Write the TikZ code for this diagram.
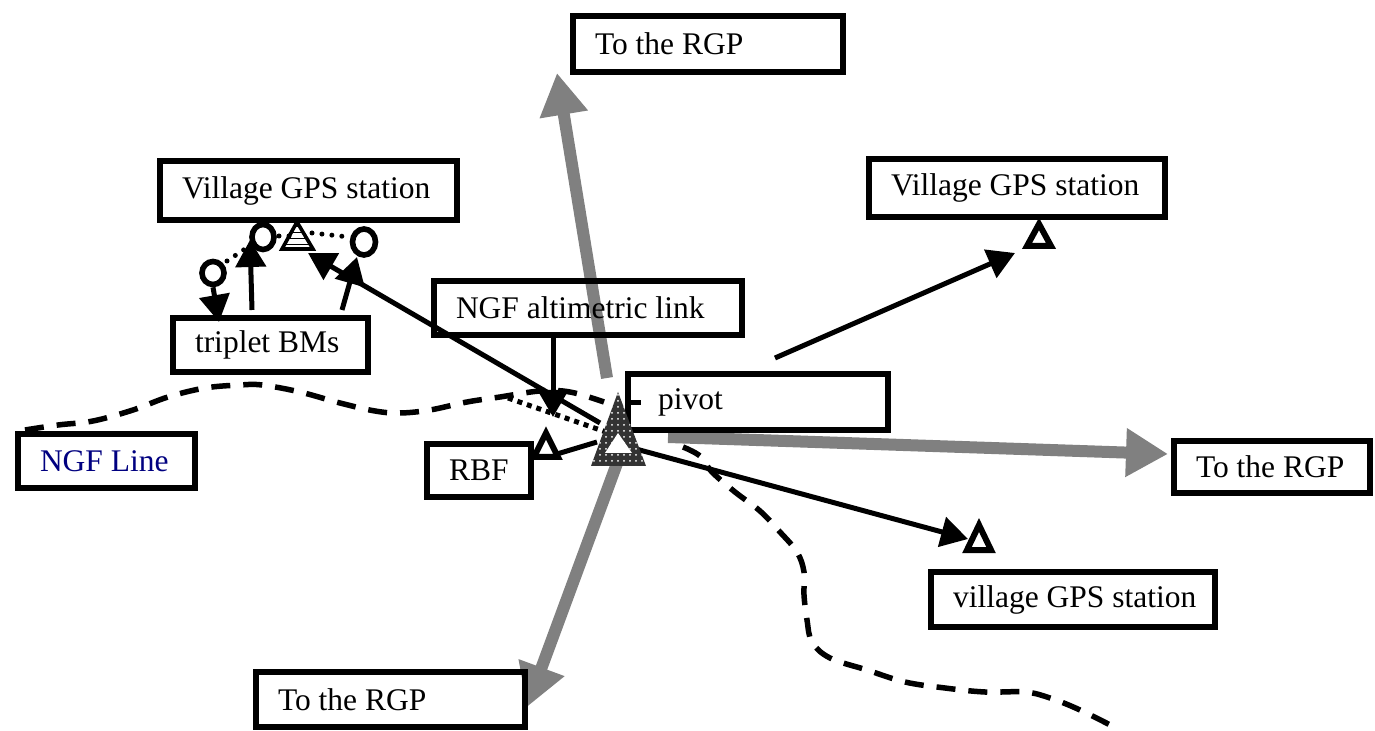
\documentclass[tikz,border=0pt]{standalone}
\usepackage{fontspec}
\setmainfont{Liberation Serif}
\usetikzlibrary{arrows.meta,patterns,shapes.geometric}
\definecolor{rgpgray}{RGB}{128,128,128}
\definecolor{ngfnavy}{RGB}{0,0,128}
\newcommand\rbox[7][]{%
  \pgfmathsetmacro\rbw{(#5-#3-6)*0.5-22}%
  \pgfmathsetmacro\rbh{(#6-#4-6)*0.5}%
  \node[rbox,#1,minimum height=\rbh pt,anchor=north west] (#2) at (#3+3,#4+3) {\makebox[\rbw pt][l]{#7}};}
\begin{document}
\begin{tikzpicture}[x=0.5pt,y=-0.5pt,
  rbox/.style={draw,rectangle,line width=3pt,inner xsep=11pt,inner ysep=0pt,
               font=\fontsize{15.75}{18}\selectfont},
  blk/.style={line width=2.5pt,-{Triangle[length=13.5pt,width=15pt]}},
  plainln/.style={line width=2.5pt},
  garrow/.style={draw=rgpgray,line width=6pt,-{Triangle[length=21pt,width=23pt]}},
  ngfline/.style={line width=2.75pt,dash pattern=on 9.5pt off 6.5pt},
  dotln/.style={line width=2.5pt,dash pattern=on 2.5pt off 2.5pt},
  rdots/.style={line width=2.5pt,line cap=round,dash pattern=on 0pt off 5pt},
  station/.style={line width=3pt,fill=white,line join=miter},
  bm/.style={draw,ellipse,line width=2.8pt,inner sep=0pt}]
\fill[white] (0,0) rectangle (1375,731);
\useasboundingbox (0,0) rectangle (1375,731);

% ---- named points
\coordinate (pvUp) at (607,378);
\coordinate (pvRight) at (668,437);
\coordinate (pvDown) at (619,458);
\coordinate (tipUp) at (557,73);
\coordinate (tipRight) at (1168,454);
\coordinate (tipDown) at (527,707);

% ---- gray arrows to the RGP
\draw[garrow] (pvUp) -- (tipUp);
\draw[garrow] (pvRight) -- (tipRight);
\draw[garrow] (pvDown) -- (tipDown);

% ---- NGF line (dashed)
\draw[ngfline] plot[smooth,tension=0.6] coordinates {(25,430) (58,425) (93,421) (133,410) (168,397) (205,388) (240,385) (262,385) (300,392) (340,403) (375,411) (400,413) (430,410) (467,402) (500,397) (540,391) (570,392) (604,402)};
\draw[ngfline] plot[smooth,tension=0.6] coordinates {(683,447) (700,456) (712,472) (735,492) (760,511) (780,532) (797,552) (804,572) (804,595) (807,620) (812,642) (830,658) (867,670) (905,682) (945,688) (985,692) (1025,692) (1050,698) (1080,710) (1120,730)};
\coordinate (dotA) at (508,398);
\coordinate (dotB) at (606,432);
\draw[dotln] (dotA) -- (dotB);

% ---- boxes
\rbox{rgpT}{567}{10}{843}{72}{To the RGP}
\rbox{vilL}{154}{155}{457}{220}{Village GPS station}
\rbox{vilR}{863}{153}{1165}{217}{Village GPS station}
\rbox{trip}{167}{312}{368}{372}{triplet BMs}
\rbox{ngfa}{428}{275}{742}{335}{NGF altimetric link}
\rbox{pivot}{622}{368}{888}{430}{\hspace{4pt}pivot}
\rbox{rbf}{421}{438}{531}{497}{RBF}
\rbox[text=ngfnavy]{ngfl}{12}{428}{195}{488}{NGF Line}
\rbox{rgpR}{1168}{435}{1370}{493}{To the RGP}
\rbox{vilB}{925}{566}{1215}{627}{village GPS station}
\rbox{rgpB}{250}{666}{525}{727}{To the RGP}

% ---- triplet benchmarks
\node[bm,minimum width=11pt,minimum height=11.5pt] (c1) at (213,273) {};
\node[bm,minimum width=11pt,minimum height=12.5pt] (c2) at (263,237) {};
\node[bm,minimum width=11.5pt,minimum height=13pt] (c3) at (364,242) {};
\coordinate (hA) at (297,222);
\draw[line width=1.8pt,pattern=horizontal lines,line join=miter] (hA) -- (313,249) -- (282,249) -- cycle;
\draw[rdots] (c1) ++(14,-12) -- (248,247);
\draw[rdots] (279,236) -- (290,236);
\draw[rdots] (312,233) -- (349,237);

\coordinate (t1a) at (252,310);
\coordinate (t1b) at (250,240);
\coordinate (t2a) at (342,310);
\coordinate (t2b) at (357,257);
\coordinate (t3b) at (219,322);
\draw[blk] (t1a) -- (t1b);
\draw[blk] (t2a) -- (t2b);
\draw[blk] (c1.south) -- (t3b);

% ---- station triangles
\coordinate (sRBF) at (546,433);
\draw[station] (sRBF) -- (558,457) -- (534,457) -- cycle;
\coordinate (sVB) at (979,525);
\draw[station] (sVB) -- (991,550) -- (967,550) -- cycle;
\coordinate (sVR) at (1039,224);
\draw[station] (sVR) -- (1051,246) -- (1027,246) -- cycle;

% ---- black links from the pivot
\coordinate (pA) at (600,423);
\coordinate (tipL) at (308,253);
\draw[blk] (pA) -- (tipL);
\coordinate (ngfaTip) at (553,417);
\draw[blk] (ngfa.south -| ngfaTip) -- (ngfaTip);
\coordinate (pB) at (597,442);
\draw[plainln] (pB) -- (557,454);
\coordinate (pC) at (636,449);
\coordinate (tipVB) at (968,539);
\draw[blk] (pC) -- (tipVB);
\coordinate (pD) at (775,358);
\coordinate (tipVR) at (1015,253);
\draw[blk] (pD) -- (tipVR);

% ---- pivot triangle
\coordinate (pvApex) at (618,392);
\fill[black!80] (pvApex) -- (646,466) -- (591,466) -- cycle;
\fill[pattern=dots,pattern color=white] (pvApex) -- (646,466) -- (591,466) -- cycle;
\fill[white] (618,433) -- (632,453) -- (605,453) -- cycle;
\draw[plainln] (pivot.west |- 0,403) -- (641,403);
\end{tikzpicture}
\end{document}
